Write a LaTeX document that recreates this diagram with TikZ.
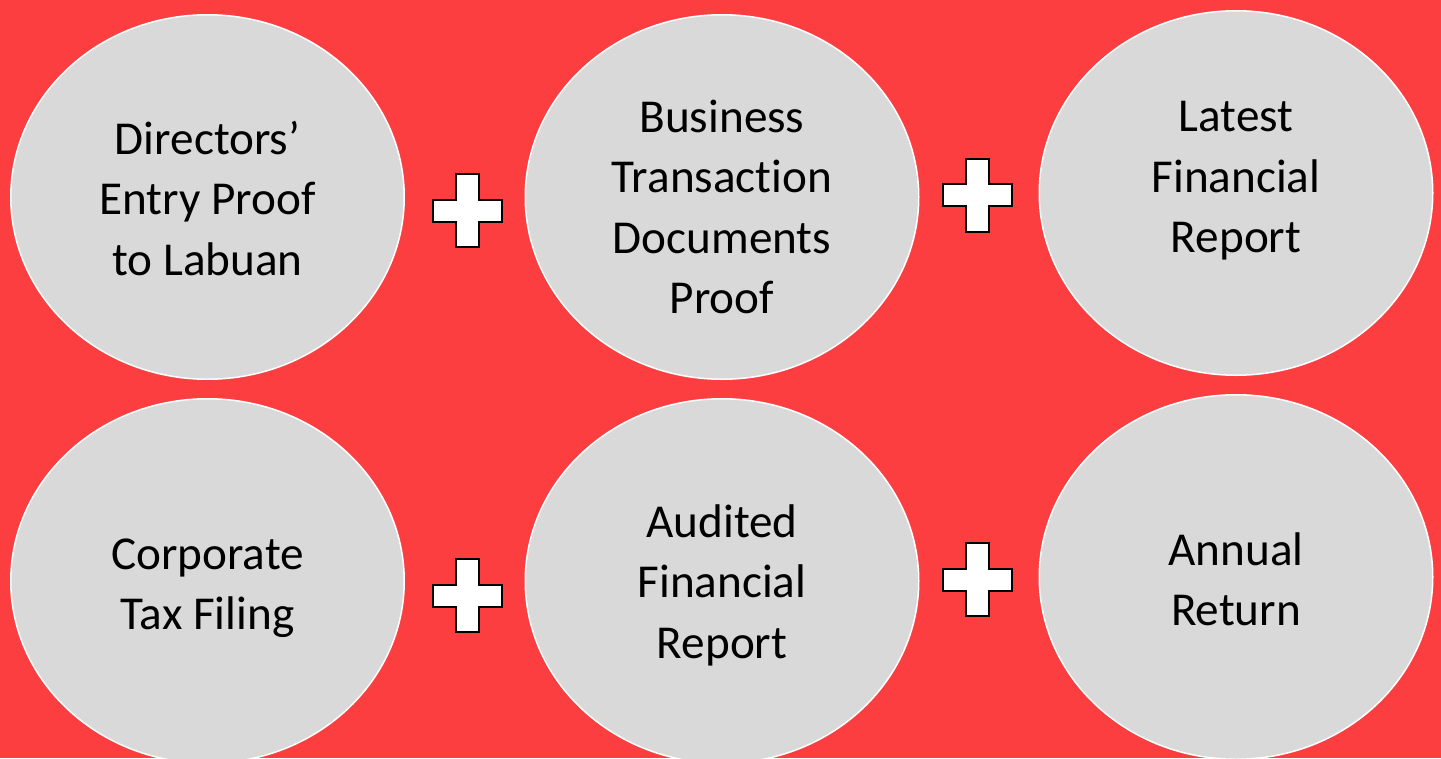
\documentclass[tikz,border=0pt]{standalone}
\usepackage{fontspec}
\setmainfont{Carlito}[Ligatures=NoCommon]
\usetikzlibrary{shapes.geometric}
\definecolor{bgred}{RGB}{252,62,64}
\definecolor{discgrey}{RGB}{217,217,217}
\tikzset{
  disc/.style={ellipse, draw=white, line width=1.5pt, fill=discgrey,
    minimum width=393.5pt, minimum height=364.5pt, inner sep=0pt},
  disctext/.style={align=center, inner sep=0pt, text=black,
    font=\fontsize{47.2}{60.5}\selectfont},
  plussign/.pic={
    \draw[fill=white, draw=black, line width=2pt]
      (-11.5,-36.5) -- (11.5,-36.5) -- (11.5,-11) -- (34.5,-11) -- (34.5,11)
      -- (11.5,11) -- (11.5,36.5) -- (-11.5,36.5) -- (-11.5,11) -- (-34.5,11)
      -- (-34.5,-11) -- (-11.5,-11) -- cycle;
  }
}
\begin{document}
\begin{tikzpicture}[x=1pt,y=-1pt]
\fill[bgred] (0,0) rectangle (1441,758);
\useasboundingbox (0,0) rectangle (1441,758);

\node[disc] (e1) at (207.5,197) {};
\node[disc] (e2) at (722,197) {};
\node[disc] (e3) at (1236,193) {};
\node[disc] (e4) at (207.5,581) {};
\node[disc] (e5) at (722,581) {};
\node[disc] (e6) at (1236,577) {};

\node[disctext] (t1) at (207.5,202.4) {\strut Directors’\\\strut Entry Proof\\\strut to Labuan};
\node[disctext] (t2) at (722,210.9) {\strut Business\\\strut Transaction\\\strut Documents\\\strut Proof};
\node[disctext] (t3) at (1236,179.9) {\strut Latest\\\strut Financial\\\strut Report};
\node[disctext] (t4) at (207.5,587.4) {\strut Corporate\\\strut Tax Filing};
\node[disctext] (t5) at (722,585.4) {\strut Audited\\\strut Financial\\\strut Report};
\node[disctext] (t6) at (1236,583.4) {\strut Annual\\\strut Return};

\pic at (467.5,210.5) {plussign};
\pic at (977.5,195) {plussign};
\pic at (467.5,595.5) {plussign};
\pic at (977.5,579.5) {plussign};
\end{tikzpicture}
\end{document}
